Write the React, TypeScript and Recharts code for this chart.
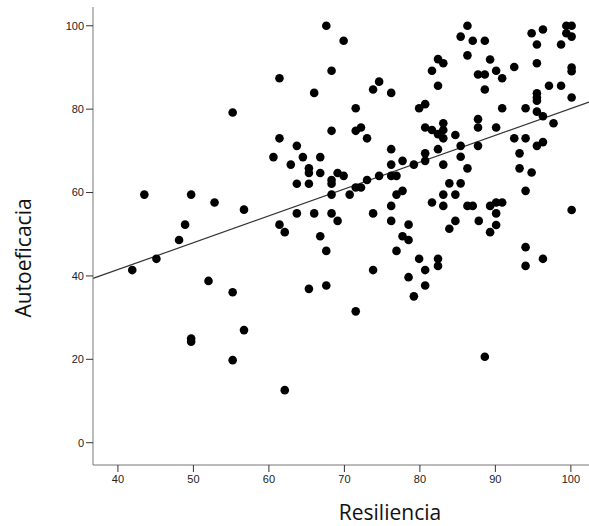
import React from 'react';
import {
  ScatterChart, Scatter, XAxis, YAxis, ReferenceLine, Label,
} from 'recharts';

// Resiliencia (x) y Autoeficacia (y)
const RESILIENCIA = [
  55.2, 67.6, 69.9, 68.3, 61.4, 66.0, 74.6, 73.8, 76.2, 71.5,
  79.9, 68.3, 71.5, 72.2, 73.0, 61.4, 63.7, 60.6, 64.5, 66.8,
  62.9, 65.3, 65.3, 66.8, 69.1, 76.2, 76.2, 77.7, 79.2, 69.9,
  63.7, 65.3, 68.3, 68.3, 68.3, 70.7, 71.5, 72.2, 73.0, 74.6,
  76.2, 76.9, 76.9, 77.7, 76.2, 76.2, 73.8, 68.3, 66.0, 63.7,
  69.1, 61.4, 62.1, 66.8, 67.6, 78.5, 77.7, 78.5, 76.9, 79.9,
  73.8, 78.5, 67.6, 65.3, 79.2, 71.5, 62.1, 43.5, 49.7, 52.8,
  56.7, 48.9, 48.1, 45.1, 41.9, 52.0, 55.2, 49.7, 49.7, 56.7,
  55.2, 86.3, 85.4, 87.0, 88.6, 86.3, 82.4, 83.1, 81.6, 89.3,
  87.7, 88.6, 90.1, 90.9, 92.5, 88.6, 82.4, 80.7, 90.9, 94.0,
  94.8, 96.3, 95.5, 98.7, 99.4, 100.1, 99.4, 100.1, 95.5, 100.1,
  100.1, 97.1, 98.7, 95.5, 95.5, 95.5, 100.1, 95.5, 96.3, 97.7,
  87.7, 87.7, 90.1, 80.7, 81.6, 82.4, 83.1, 83.1, 83.1, 84.7,
  85.4, 82.4, 80.7, 80.7, 83.1, 85.4, 87.7, 86.3, 92.5, 94.0,
  93.2, 95.5, 96.3, 93.2, 94.8, 83.9, 85.4, 83.1, 84.7, 81.6,
  83.1, 86.3, 87.0, 89.3, 90.1, 90.9, 90.1, 90.1, 89.3, 87.8,
  84.7, 83.9, 94.0, 100.1, 94.0, 96.3, 94.0, 82.4, 82.4, 80.7,
  80.7, 88.6,
];

const AUTOEFICACIA = [
  79.2, 100.0, 96.4, 89.2, 87.4, 83.9, 86.6, 84.7, 83.9, 80.2,
  80.2, 74.8, 74.8, 75.6, 73.0, 73.0, 71.2, 68.5, 68.5, 68.5,
  66.7, 65.8, 64.7, 64.7, 64.7, 70.4, 66.7, 67.6, 66.7, 64.0,
  62.1, 62.1, 63.0, 62.1, 59.5, 59.5, 61.2, 61.2, 63.0, 64.0,
  64.0, 64.0, 59.5, 60.4, 56.8, 53.2, 55.0, 55.0, 55.0, 55.0,
  53.2, 52.3, 50.5, 49.5, 46.0, 52.3, 49.5, 48.6, 46.0, 44.1,
  41.4, 39.7, 37.7, 36.9, 35.1, 31.5, 12.6, 59.5, 59.5, 57.6,
  55.9, 52.3, 48.6, 44.1, 41.4, 38.8, 36.1, 25.0, 24.2, 27.0,
  19.8, 100.0, 97.4, 96.4, 96.4, 92.9, 92.0, 91.0, 89.2, 91.9,
  88.3, 88.3, 89.2, 87.4, 90.1, 84.7, 85.6, 81.2, 80.2, 80.2,
  98.2, 99.1, 95.5, 95.5, 100.0, 100.0, 98.2, 97.4, 91.0, 90.0,
  89.1, 85.6, 85.6, 83.8, 82.8, 82.0, 82.8, 79.4, 78.3, 76.6,
  77.6, 75.6, 75.6, 75.6, 75.0, 74.0, 75.0, 76.6, 73.0, 73.8,
  71.2, 70.4, 69.4, 67.6, 66.7, 68.6, 71.2, 65.8, 73.0, 73.0,
  69.4, 71.2, 72.1, 65.8, 64.8, 62.2, 62.2, 59.5, 59.5, 57.6,
  56.8, 56.8, 56.8, 56.8, 57.6, 57.6, 55.0, 52.2, 50.5, 53.2,
  53.2, 51.3, 60.4, 55.8, 46.9, 44.1, 42.4, 44.1, 42.4, 41.4,
  37.7, 20.6,
];

// recta de ajuste lineal
const FIT_X = [36.7, 102.4];
const FIT_Y = [39.4, 81.7];

const X_TICKS = [40, 50, 60, 70, 80, 90, 100];
const Y_TICKS = [0, 20, 40, 60, 80, 100];

const points = RESILIENCIA.map((x, i) => ({ x, y: AUTOEFICACIA[i] }));

const tickStyle = { fontSize: 11, fill: '#222', fontFamily: '"Liberation Sans", Arial, sans-serif' };
const labelFont = '"Open Sans", "Noto Sans", sans-serif';

const Dot = (props: any) => (
  <circle cx={props.cx} cy={props.cy} r={4.3} fill="#000" />
);

export default function App() {
  return (
    <div style={{ position: 'absolute', left: 0, top: 0, background: '#fff' }}>
      <ScatterChart width={589} height={526} margin={{ top: 7, right: 0, bottom: 0, left: 0 }}>
        <XAxis
          type="number"
          dataKey="x"
          domain={[FIT_X[0], FIT_X[1]]}
          ticks={X_TICKS}
          allowDataOverflow
          height={61}
          tick={tickStyle}
          tickSize={7}
          tickMargin={3}
          axisLine={{ stroke: '#777' }}
          tickLine={{ stroke: '#333' }}
        >
          <Label
            content={({ viewBox }: any) => (
              <text
                x={viewBox.x + viewBox.width / 2 + 49}
                y={viewBox.y + 55}
                textAnchor="middle"
                fontSize={21}
                fontFamily={labelFont}
                fill="#111"
              >
                Resiliencia
              </text>
            )}
          />
        </XAxis>
        <YAxis
          type="number"
          dataKey="y"
          domain={[-5.35, 104.5]}
          ticks={Y_TICKS}
          allowDataOverflow
          width={93}
          tick={tickStyle}
          tickSize={7}
          tickMargin={2}
          axisLine={{ stroke: '#777' }}
          tickLine={{ stroke: '#333' }}
        >
          <Label
            content={({ viewBox }: any) => {
              const cx = viewBox.x + 31;
              const cy = viewBox.y + viewBox.height / 2 + 22;
              return (
                <text
                  x={cx}
                  y={cy}
                  transform={`rotate(-90, ${cx}, ${cy})`}
                  textAnchor="middle"
                  fontSize={21}
                  fontFamily={labelFont}
                  fill="#111"
                >
                  Autoeficacia
                </text>
              );
            }}
          />
        </YAxis>
        <ReferenceLine
          segment={[{ x: FIT_X[0], y: FIT_Y[0] }, { x: FIT_X[1], y: FIT_Y[1] }]}
          stroke="#333"
          strokeWidth={1.2}
          ifOverflow="visible"
        />
        <Scatter data={points} shape={Dot} isAnimationActive={false} />
      </ScatterChart>
    </div>
  );
}
